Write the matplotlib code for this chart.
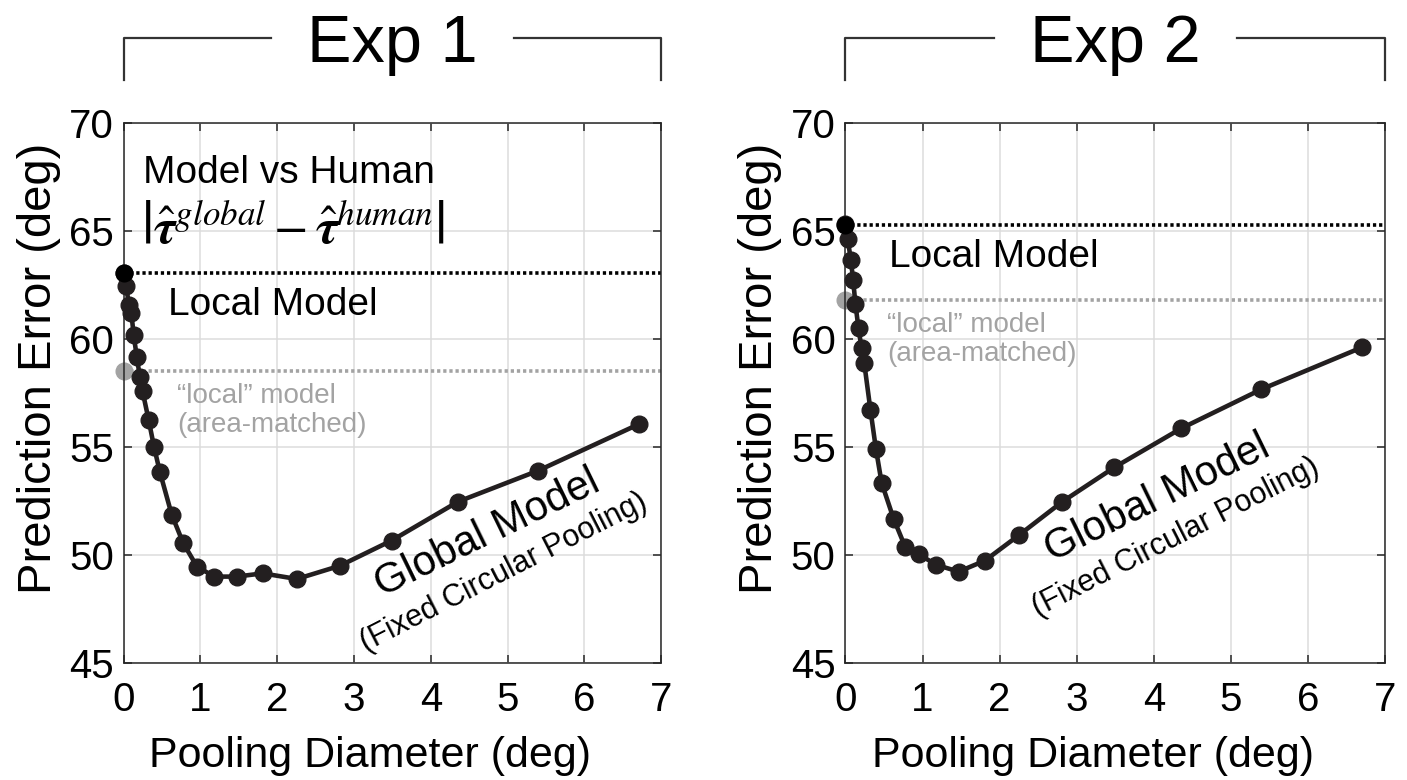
import matplotlib.pyplot as plt
from matplotlib.lines import Line2D

plt.rcParams['font.family'] = ['Liberation Sans', 'DejaVu Sans']
plt.rcParams['mathtext.fontset'] = 'stix'

# ---- Data ----------------------------------------------------------------
pool_diam = [0, 0.03, 0.07, 0.10, 0.13, 0.17, 0.21, 0.245, 0.325, 0.395, 0.47,
             0.625, 0.775, 0.955, 1.18, 1.47, 1.81, 2.255, 2.815, 3.49, 4.355,
             5.395, 6.705]
exp1_global = [63.07, 62.45, 61.57, 61.19, 60.19, 59.18, 58.26, 57.59, 56.25,
               55.01, 53.86, 51.87, 50.55, 49.46, 49.0, 49.0, 49.15, 48.89,
               49.5, 50.67, 52.47, 53.90, 56.05]
exp2_global = [65.31, 64.62, 63.68, 62.75, 61.62, 60.49, 59.57, 58.87, 56.71,
               54.93, 53.34, 51.68, 50.38, 50.03, 49.54, 49.23, 49.74, 50.93,
               52.47, 54.06, 55.86, 57.67, 59.62]
local_model = [63.07, 65.3]
local_area_matched = [58.5, 61.8]
titles = ["Exp 1", "Exp 2"]

DARK = "#231f20"
GRAY = "#a3a3a3"

fig = plt.figure(figsize=(14.07, 7.8), dpi=100)
ax1 = fig.add_axes([123.7 / 1407, 0.15, 537.5 / 1407, 540 / 780])
ax2 = fig.add_axes([845.4 / 1407, 0.15, 539.7 / 1407, 540 / 780])
axes = [ax1, ax2]

for ax, y, loc, area in zip(axes, [exp1_global, exp2_global],
                            local_model, local_area_matched):
    ax.plot([0, 7], [loc, loc], color="black", lw=2.6,
            ls=(0, (0.9, 0.8)), zorder=2)
    ax.plot([0, 7], [area, area], color=GRAY, lw=2.6,
            ls=(0, (0.9, 0.8)), zorder=2)
    ax.plot(pool_diam, y, color=DARK, lw=3.3, marker="o", ms=12,
            zorder=3, clip_on=False)
    ax.plot(0, loc, "o", color="black", ms=12, zorder=4, clip_on=False)
    ax.plot(0, area, "o", color=GRAY, ms=12, zorder=2.5, clip_on=False)

    ax.set_xlim(0, 7)
    ax.set_ylim(45, 70)
    ax.set_xticks(range(8))
    ax.set_yticks(range(45, 71, 5))
    ax.grid(True, color="#dcdcdc", lw=1.1)
    ax.set_axisbelow(True)
    ax.tick_params(direction="in", top=True, right=True, length=6,
                   width=1.1, color="#262626", labelsize=29)
    ax.tick_params(axis="x", pad=13)
    ax.tick_params(axis="y", pad=7)
    for sp in ax.spines.values():
        sp.set_color("#262626")
        sp.set_linewidth(1.1)
    ax.set_xlabel("Pooling Diameter (deg)", fontsize=31)
    ax.set_ylabel("Prediction Error (deg)", fontsize=34)
    ax.xaxis.set_label_coords(0.458, -0.135)
    ax.yaxis.set_label_coords(-0.117, 0.545)

# ---- Annotations: Exp 1 ---------------------------------------------------
ax1.text(0.25, 67.24, "Model vs Human", fontsize=28, va="baseline")
ax1.text(0.22, 65.1,
         r"$\left|\hat{\boldsymbol{\tau}}^{global}"
         r" - \hat{\boldsymbol{\tau}}^{human}\right|$",
         fontsize=36, va="center")
ax1.text(0.58, 61.11, "Local Model", fontsize=28, va="baseline")
ax1.text(0.70, 57.98, "\u201clocal\u201d model\n(area-matched)", fontsize=20,
         color=GRAY, va="top", linespacing=1.15)
ax1.text(4.73, 51.0, "Global Model", fontsize=30, rotation=26,
         ha="center", va="center")
ax1.text(4.95, 49.2, "(Fixed Circular Pooling)", fontsize=22, rotation=27,
         ha="center", va="center")

# ---- Annotations: Exp 2 ---------------------------------------------------
ax2.text(0.57, 63.35, "Local Model", fontsize=28, va="baseline")
ax2.text(0.54, 61.26, "\u201clocal\u201d model\n(area-matched)", fontsize=20,
         color=GRAY, va="top", linespacing=1.15)
ax2.text(4.04, 52.64, "Global Model", fontsize=30, rotation=26,
         ha="center", va="center")
ax2.text(4.29, 50.8, "(Fixed Circular Pooling)", fontsize=22, rotation=27,
         ha="center", va="center")

# ---- Bracketed titles ----------------------------------------------------
renderer = fig.canvas.get_renderer()
W, H = 1407, 780
for ax, title in zip(axes, titles):
    bb = ax.get_position()
    cx = (bb.x0 + bb.x1) / 2
    t = fig.text(cx, 1 - 62 / H, title, fontsize=48, ha="center",
                 va="baseline")
    ext = t.get_window_extent(renderer)
    gap = 36
    yl = 1 - 38 / H
    yb = 1 - 80 / H
    kw = dict(color="#333333", lw=1.6, transform=fig.transFigure)
    fig.add_artist(Line2D([bb.x0, bb.x0, (ext.x0 - gap) / W],
                          [yb, yl, yl], **kw))
    fig.add_artist(Line2D([(ext.x1 + gap) / W, bb.x1, bb.x1],
                          [yl, yl, yb], **kw))

fig.savefig("out.png", dpi=100)
